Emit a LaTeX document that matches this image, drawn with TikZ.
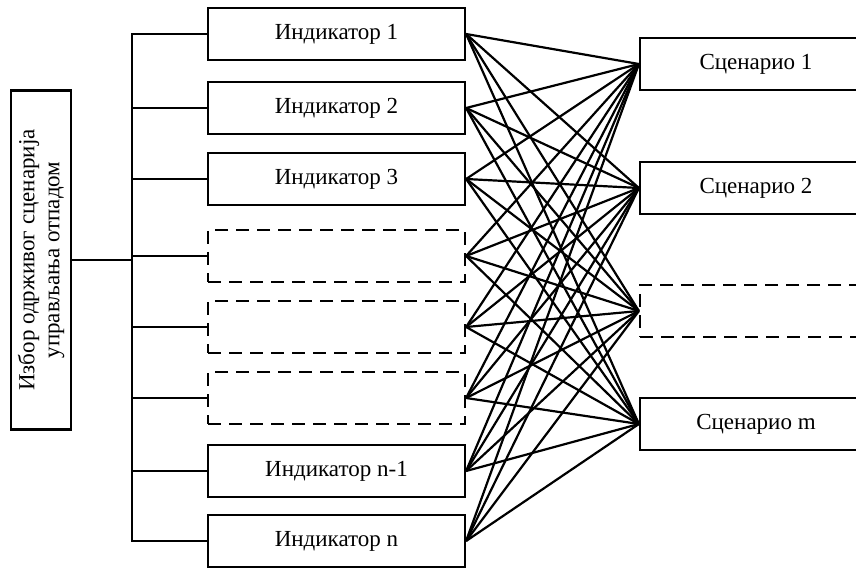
\documentclass[tikz,border=0pt]{standalone}
\usepackage{fontspec}
\setmainfont{Liberation Serif}
\usetikzlibrary{positioning}
\tikzset{box/.style = {draw, line width = 2.2pt, minimum width = 257, minimum height = 52,
                       inner sep = 0, font = \fontsize{23}{26}\selectfont}}
\tikzset{dbox/.style = {box, dash pattern = on 13pt off 8pt}}
\tikzset{scen/.style = {box, minimum width = 232}}
\tikzset{dscen/.style = {scen, dash pattern = on 13pt off 8pt}}
\tikzset{link/.style = {line width = 2.2pt}}

\begin{document}
\begin{tikzpicture}[x=1pt, y=-1pt]
      \useasboundingbox (0, 0) rectangle (856, 569);

      \node [draw, line width = 2.2pt, minimum width = 339, minimum height = 60, rotate = 90,
             align = center, font = \fontsize{23}{25}\selectfont] (main) at (41, 260)
            {Избор одрживог сценарија\\управљања отпадом};

      \node [box] (ind1) at (336.5, 34) {Индикатор 1};
      \node [box] (ind2) at (336.5, 108) {Индикатор 2};
      \node [box] (ind3) at (336.5, 179) {Индикатор 3};
      \node [dbox] (ind4) at (336.5, 256) {};
      \node [dbox] (ind5) at (336.5, 327) {};
      \node [dbox] (ind6) at (336.5, 398) {};
      \node [box] (ind7) at (336.5, 471) {Индикатор n-1};
      \node [box] (ind8) at (336.5, 541) {Индикатор n};

      \node [scen] (sc1) at (756, 64) {Сценарио 1};
      \node [scen] (sc2) at (756, 188) {Сценарио 2};
      \node [dscen] (sc3) at (756, 311) {};
      \node [scen] (sc4) at (756, 424) {Сценарио m};

      \coordinate (trunk) at (132, 0);

      \draw [link] (ind1.west) -- (ind1.west -| trunk) -- (ind8.west -| trunk) -- (ind8.west);
      \foreach \i in {2,...,7}
            \draw [link] (ind\i.west) -- (ind\i.west -| trunk);
      \draw [link] (main.south) -- (main.south -| trunk);

      \foreach \i in {1,...,8}
            \foreach \j in {1,...,4}
                  \draw [link] (ind\i.east) -- (sc\j.west);
\end{tikzpicture}
\end{document}
